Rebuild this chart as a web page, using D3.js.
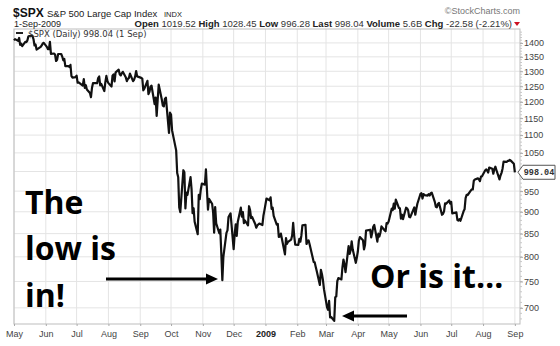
<!DOCTYPE html>
<html>
<head>
<meta charset="utf-8">
<script src="https://cdn.jsdelivr.net/npm/d3@7"></script>
<style>
  body { margin: 0; background: #fff; }
  svg { display: block; font-family: "Liberation Sans", Arial, sans-serif; }
</style>
</head>
<body>
<svg id="chart" width="560" height="346"></svg>
<script>
// daily closes of $SPX, one array per month (trading days in order)
const close2008May = [1409.3, 1413.9, 1407.5, 1418.3, 1392.6, 1397.7, 1388.3, 1403.6, 1403.0, 1408.7, 1423.6, 1425.4, 1426.6, 1413.4, 1390.7, 1394.4, 1375.9, 1385.4, 1390.8, 1398.3, 1400.4];
const close2008Jun = [1385.7, 1377.7, 1377.2, 1404.1, 1360.7, 1361.8, 1358.4, 1335.5, 1339.9, 1360.0, 1360.1, 1350.9, 1337.8, 1342.8, 1317.9, 1318.0, 1314.3, 1322.0, 1283.2, 1278.4, 1280.0];
const close2008Jul = [1284.9, 1261.5, 1262.9, 1252.3, 1273.7, 1244.7, 1253.4, 1239.5, 1228.3, 1214.9, 1245.4, 1260.3, 1260.7, 1260.0, 1277.0, 1282.2, 1252.5, 1257.8, 1234.4, 1263.2, 1284.3, 1267.4];
const close2008Aug = [1260.3, 1249.0, 1284.9, 1289.2, 1266.1, 1296.3, 1305.3, 1289.6, 1285.8, 1292.9, 1298.2, 1278.6, 1266.7, 1274.5, 1277.7, 1292.2, 1266.8, 1271.5, 1281.7, 1300.7, 1282.8];
const close2008Sep = [1277.6, 1275.0, 1236.8, 1242.3, 1267.8, 1224.5, 1232.0, 1249.1, 1251.7, 1192.7, 1213.6, 1156.4, 1206.5, 1255.1, 1207.1, 1188.2, 1185.9, 1209.2, 1213.3, 1106.4, 1166.4];
const close2008Oct = [1161.1, 1114.3, 1099.2, 1056.9, 996.2, 984.9, 909.9, 899.2, 1003.4, 998.0, 907.8, 946.4, 940.6, 985.4, 955.1, 896.8, 908.1, 876.8, 848.9, 940.5, 930.1, 954.1, 968.8];
const close2008Nov = [966.3, 1005.8, 952.8, 904.9, 931.0, 919.2, 899.0, 852.3, 911.3, 873.3, 850.8, 859.1, 806.6, 752.4, 800.0, 851.8, 857.4, 887.7, 896.2];
const close2008Dec = [816.2, 848.8, 870.7, 845.2, 876.1, 909.7, 888.7, 899.2, 873.6, 879.7, 868.6, 913.2, 904.4, 885.3, 887.9, 871.6, 863.2, 868.2, 872.8, 869.4, 890.6, 903.3];
const close2009Jan = [931.8, 927.5, 934.7, 906.7, 909.7, 890.4, 870.3, 871.8, 842.6, 843.7, 850.1, 805.2, 840.2, 827.5, 832.0, 836.6, 845.7, 874.1, 845.1, 825.9];
const close2009Feb = [825.4, 838.5, 832.2, 845.9, 868.6, 869.9, 827.2, 833.7, 835.2, 826.8, 789.2, 788.4, 778.9, 770.1, 743.3, 773.1, 764.9, 752.8, 735.1];
const close2009Mar = [700.8, 696.3, 712.9, 682.6, 683.4, 676.5, 719.6, 721.4, 750.7, 756.6, 753.9, 778.1, 794.4, 784.0, 768.5, 822.9, 806.1, 813.9, 832.9, 815.9, 787.5, 797.9];
const close2009Apr = [811.1, 834.4, 842.5, 835.5, 815.6, 825.2, 856.6, 858.7, 841.5, 852.1, 865.3, 869.6, 832.4, 850.1, 843.6, 851.9, 866.2, 857.5, 855.2, 873.6, 872.8];
const close2009May = [877.5, 907.2, 903.8, 919.5, 907.4, 929.2, 909.2, 908.4, 883.9, 893.1, 882.9, 909.7, 908.1, 903.5, 888.3, 887.0, 910.3, 893.1, 906.8, 919.1];
const close2009Jun = [942.9, 944.7, 931.8, 942.5, 940.1, 939.1, 942.4, 939.2, 944.9, 946.2, 923.7, 912.0, 910.7, 918.4, 921.2, 893.0, 895.1, 900.9, 920.3, 918.9, 927.2, 919.3];
const close2009Jul = [923.3, 896.4, 898.7, 881.0, 879.6, 882.7, 879.1, 901.1, 905.8, 932.7, 940.7, 940.4, 951.1, 954.6, 954.1, 976.3, 979.3, 982.2, 979.6, 975.2, 986.8, 987.5];
const close2009Aug = [1002.6, 1005.7, 1002.7, 997.1, 1010.5, 1007.1, 994.4, 1005.8, 1012.7, 1004.1, 979.7, 989.7, 996.5, 1007.4, 1026.1, 1025.6, 1028.0, 1028.1, 1031.0, 1028.9, 1020.6];
const close2009Sep = [998.04];

const closesByMonth = [close2008May, close2008Jun, close2008Jul, close2008Aug, close2008Sep, close2008Oct,
  close2008Nov, close2008Dec, close2009Jan, close2009Feb, close2009Mar, close2009Apr, close2009May,
  close2009Jun, close2009Jul, close2009Aug, close2009Sep];

// market holidays (no trading)
const holidays = ["2008-05-26", "2008-07-04", "2008-09-01", "2008-11-27", "2008-12-25", "2009-01-01",
  "2009-01-19", "2009-02-16", "2009-04-10", "2009-05-25", "2009-07-03"];

const yTicks = [700, 750, 800, 850, 900, 950, 1000, 1050, 1100, 1150, 1200, 1250, 1300, 1350, 1400];
const yTickLabels = ["700", "750", "800", "850", "900", "950", "", "1050", "1100", "1150", "1200", "1250", "1300", "1350", "1400"];
const monthLabels = ["May", "Jun", "Jul", "Aug", "Sep", "Oct", "Nov", "Dec", "2009", "Feb", "Mar", "Apr", "May", "Jun", "Jul", "Aug", "Sep"];

const quoteLabels = ["Open", "High", "Low", "Last", "Volume", "Chg"];
const quoteValues = ["1019.52", "1028.45", "996.28", "998.04", "5.6B", "-22.58 (-2.21%)"];

// --- build dated series
const fmtDay = d3.timeFormat("%Y-%m-%d");
const monthStarts = d3.timeMonth.range(new Date(2008, 4, 1), new Date(2009, 8, 2));
const series = [];
monthStarts.forEach(function(m, i) {
  var days = d3.timeDay.range(m, d3.timeMonth.offset(m, 1))
    .filter(d => d.getDay() % 6 !== 0 && holidays.indexOf(fmtDay(d)) < 0);
  closesByMonth[i].forEach((c, j) => series.push({date: days[j], close: c}));
});

var svg = d3.select("#chart");
var plotL = 14, plotR = 520, plotT = 29, plotB = 324;

var x = d3.scaleTime()
  .domain([new Date(2008, 4, 1), new Date(2009, 8, 6)])
  .range([plotL, plotR]);
var y = d3.scaleLog()
  .domain([671, 1452])
  .range([plotB, plotT]);

// grid
svg.append("g").selectAll("line")
  .data(yTicks)
  .enter().append("line")
  .attr("x1", plotL).attr("x2", plotR)
  .attr("y1", d => y(d)).attr("y2", d => y(d))
  .style("stroke", "#e4e4e4");

svg.append("g").selectAll("line")
  .data(monthStarts)
  .enter().append("line")
  .attr("x1", d => x(d)).attr("x2", d => x(d))
  .attr("y1", plotT).attr("y2", plotB)
  .style("stroke", "#e4e4e4");

// frame
svg.append("rect")
  .attr("x", plotL).attr("y", plotT)
  .attr("width", plotR - plotL).attr("height", plotB - plotT)
  .style("fill", "none").style("stroke", "#bdbdbd");

// minor ticks on right axis
svg.append("g").selectAll("line")
  .data(d3.range(680, 1450, 10))
  .enter().append("line")
  .attr("x1", plotR).attr("x2", plotR + 2)
  .attr("y1", d => y(d)).attr("y2", d => y(d))
  .style("stroke", "#c8c8c8");

// y axis
var yAxis = d3.axisRight(y)
  .tickValues(yTicks)
  .tickSize(3)
  .tickPadding(1)
  .tickFormat((d, i) => yTickLabels[i]);

var ya = svg.append("g")
  .attr("transform", "translate(" + plotR + ",0)")
  .call(yAxis);
ya.select(".domain").remove();
ya.selectAll("line").style("stroke", "#aaa");
ya.selectAll("text").style("font-size", "9px").style("fill", "#444").style("font-family", "Liberation Sans, Arial");

// x axis
var xAxis = d3.axisBottom(x)
  .tickValues(monthStarts)
  .tickSize(2)
  .tickPadding(5)
  .tickFormat((d, i) => monthLabels[i]);

var xa = svg.append("g")
  .attr("transform", "translate(0," + plotB + ")")
  .call(xAxis);
xa.select(".domain").remove();
xa.selectAll("line").style("stroke", "#aaa");
xa.selectAll("text")
  .style("font-size", "9px").style("font-family", "Liberation Sans, Arial")
  .style("font-weight", (d, i) => monthLabels[i] === "2009" ? "bold" : "normal")
  .style("fill", (d, i) => monthLabels[i] === "2009" ? "#222" : "#444");

// price line
var line = d3.line()
  .x(d => x(d.date))
  .y(d => y(d.close));

svg.append("path")
  .datum(series)
  .attr("d", line)
  .style("fill", "none")
  .style("stroke", "#111")
  .style("stroke-width", 2.2)
  .style("stroke-linejoin", "round");

// last value tag
var last = series[series.length - 1];
var ty = y(last.close);
svg.append("polygon")
  .attr("points", [[plotR - 2, ty], [plotR + 3, ty - 7], [555, ty - 7], [555, ty + 7], [plotR + 3, ty + 7]].join(" "))
  .style("fill", "#fff").style("stroke", "#555");
svg.append("text")
  .attr("x", 539).attr("y", ty + 3)
  .style("text-anchor", "middle")
  .style("font-family", "Liberation Mono, monospace")
  .style("font-weight", "bold")
  .style("font-size", "8.5px")
  .style("fill", "#333")
  .text(last.close.toFixed(2));

// legend
svg.append("rect")
  .attr("x", 16).attr("y", 32).attr("width", 7).attr("height", 2)
  .style("fill", "#222");
svg.append("text")
  .attr("x", 28).attr("y", 37)
  .style("font-family", "DejaVu Sans")
  .style("font-size", "8.5px")
  .style("fill", "#333")
  .text("$SPX (Daily) 998.04 (1 Sep)");

// header
svg.append("text")
  .attr("x", 13).attr("y", 17)
  .style("font-weight", "bold").style("font-size", "12px").style("fill", "#111")
  .text("$SPX");
svg.append("text")
  .attr("x", 47).attr("y", 17)
  .style("font-size", "9.5px").style("fill", "#222")
  .text("S&P 500 Large Cap Index");
svg.append("text")
  .attr("x", 164).attr("y", 17)
  .style("font-size", "7.5px").style("fill", "#222")
  .text("INDX");
svg.append("text")
  .attr("x", 14).attr("y", 27)
  .style("font-size", "9px").style("fill", "#222")
  .text("1-Sep-2009");

var quote = svg.append("text")
  .attr("x", 512).attr("y", 27)
  .style("text-anchor", "end")
  .style("font-size", "9.5px").style("fill", "#222");
quoteLabels.forEach(function(lab, i) {
  quote.append("tspan").style("font-weight", "bold").text((i ? " " : "") + lab + " ");
  quote.append("tspan").style("fill", "#333").text(quoteValues[i]);
});

svg.append("path")
  .attr("d", "M514,22 L520,22 L517,26 Z")
  .style("fill", "#cc1122");

svg.append("text")
  .attr("x", 520).attr("y", 14)
  .style("text-anchor", "end")
  .style("font-size", "9px").style("fill", "#777")
  .text("\u00a9StockCharts.com");

// annotations
var note = svg.append("g")
  .style("font-family", "Open Sans, sans-serif")
  .style("font-weight", "bold")
  .style("font-size", "32px")
  .style("fill", "#000");
note.append("text").attr("x", 25).attr("y", 214).text("The");
note.append("text").attr("x", 25).attr("y", 260).text("low is");
note.append("text").attr("x", 25).attr("y", 307).text("in!");
note.append("text").attr("x", 370).attr("y", 288).text("Or is it\u2026");

function arrow(x0, x1, yy) {
  var dir = x1 > x0 ? 1 : -1;
  svg.append("line")
    .attr("x1", x0).attr("x2", x1 - dir * 9)
    .attr("y1", yy).attr("y2", yy)
    .style("stroke", "#000").style("stroke-width", 3);
  svg.append("path")
    .attr("d", "M" + x1 + "," + yy + " L" + (x1 - dir * 12) + "," + (yy - 5.5) + " L" + (x1 - dir * 12) + "," + (yy + 5.5) + " Z")
    .style("fill", "#000");
}
arrow(106, 218, 279);
arrow(407, 342, 316);
</script>
</body>
</html>
